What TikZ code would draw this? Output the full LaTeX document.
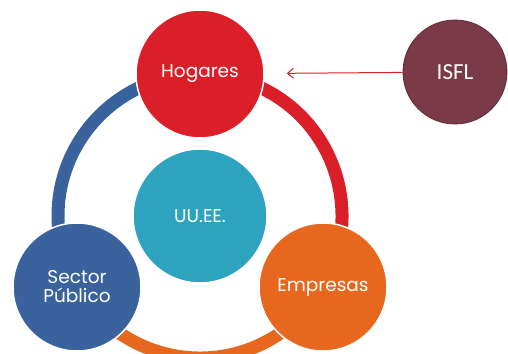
\documentclass[tikz,border=0pt]{standalone}
\usepackage{fontspec}
\setmainfont{Poppins}
\newfontfamily\isflfont{Carlito}
\usetikzlibrary{arrows.meta}

\definecolor{rojo}{HTML}{DA1F28}
\definecolor{azul}{HTML}{3A629C}
\definecolor{naranja}{HTML}{E8671E}
\definecolor{turquesa}{HTML}{2EA3BF}
\definecolor{granate}{HTML}{7A3A48}
\definecolor{granateborde}{HTML}{5A2A35}

\tikzset{
  sector/.style={circle, draw=white, line width=1.5pt, text=white, minimum size=128pt, inner sep=0pt, align=center, font=\fontsize{18.5}{21}\selectfont},
  anillo/.style={line width=13pt},
  flecha/.style={-{Straight Barb[length=6pt,width=10pt]}, rojo, line width=1pt, shorten >=22pt}
}

\begin{document}
\begin{tikzpicture}[x=1pt, y=-1pt]
\useasboundingbox (0,0) rectangle (508,353);

% anillo (eje y hacia abajo: angulos invertidos)
\draw[anillo, azul] (200,216) ++(270:142) arc(270:150:142);
\draw[anillo, naranja] (200,216) ++(150:142) arc(150:30:142);
\draw[anillo, rojo] (200,216) ++(30:142) arc(30:-90:142);

% nodos
\node[sector, fill=rojo] (hogares) at (200,74) {Hogares};
\node[sector, fill=azul] (publico) at (77,287) {Sector\\[-2pt]Público};
\node[sector, fill=naranja] (empresas) at (323,287) {Empresas};
\node[sector, fill=turquesa, minimum size=134pt] (uuee) at (200,216) {UU.EE.};
\node[circle, fill=granate, draw=granateborde, line width=0.8pt, minimum size=104pt, text=white, font=\isflfont\fontsize{23}{26}\selectfont] (isfl) at (455,72) {ISFL};

\draw[flecha] (isfl) -- (hogares);

\end{tikzpicture}
\end{document}
